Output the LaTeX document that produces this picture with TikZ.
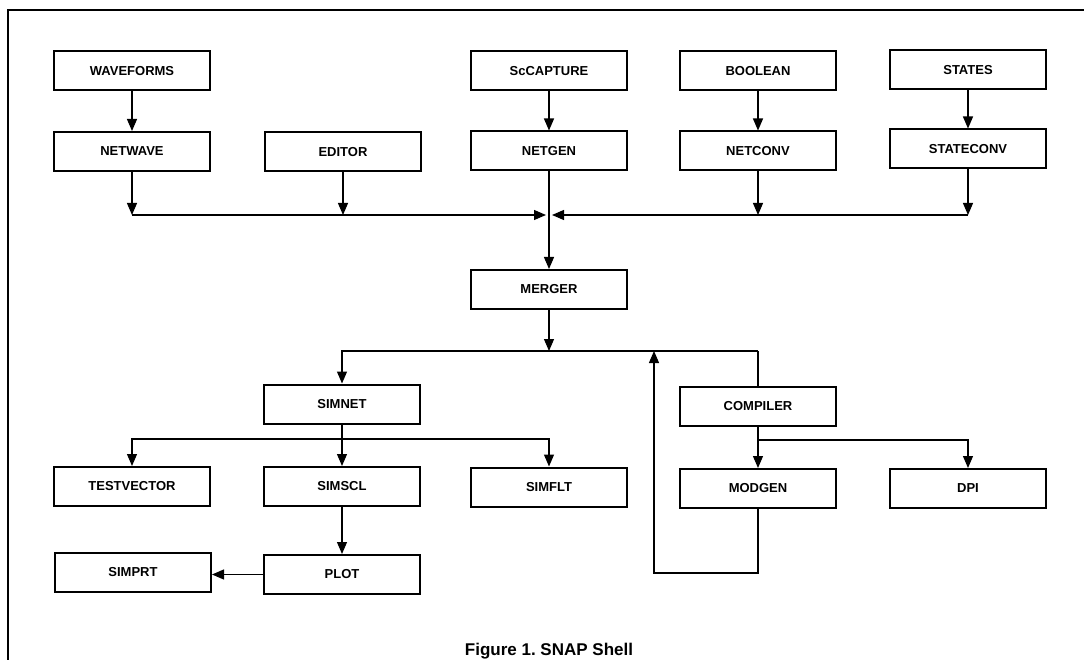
\documentclass[tikz,border=0pt]{standalone}
\usepackage{fontspec}
\setmainfont{Liberation Sans}
\usetikzlibrary{arrows.meta}
\begin{document}
\frenchspacing
\begin{tikzpicture}[x=1pt,y=-1pt,
  box/.style={draw, line width=2pt, minimum width=156pt, minimum height=39pt,
    inner sep=0pt, font=\fontsize{13}{15}\selectfont\bfseries},
  link/.style={line width=1.2pt},
  arr/.style={link, -{Triangle[length=12pt,width=10pt]}}]
\useasboundingbox (0,0) rectangle (1084,660);
% frame
\draw[line width=1.3pt] (8,660) -- (8,10) -- (1084,10);

% boxes
\node[box] (wave) at (132,71) {WAVEFORMS};
\node[box] (netwave) at (132,151.5) {NETWAVE};
\node[box] (editor) at (343,152) {EDITOR};
\node[box] (sccap) at (549,71) {ScCAPTURE};
\node[box] (netgen) at (549,151) {NETGEN};
\node[box] (bool) at (758,71) {BOOLEAN};
\node[box] (netconv) at (758,151) {NETCONV};
\node[box] (states) at (968,70) {STATES};
\node[box] (stateconv) at (968,149) {STATECONV};
\node[box] (merger) at (549,289.5) {MERGER};
\node[box] (simnet) at (342,404) {SIMNET};
\node[box] (compiler) at (758,406) {COMPILER};
\node[box] (testvec) at (132,486.5) {TESTVECTOR};
\node[box] (simscl) at (342,486.5) {SIMSCL};
\node[box] (simflt) at (549,487) {SIMFLT};
\node[box] (modgen) at (758,488.5) {MODGEN};
\node[box] (dpi) at (968,488.5) {DPI};
\node[box] (simprt) at (133,572) {SIMPRT};
\node[box] (plot) at (342,574.5) {PLOT};

% junction coordinates
\coordinate (mL) at (132,215);
\coordinate (mE) at (343,215);
\coordinate (mC) at (549,215);
\coordinate (mN) at (758,215);
\coordinate (mR) at (968,215);
\coordinate (bus) at (549,351);
\coordinate (busL) at (342,351);
\coordinate (busR) at (758,351);
\coordinate (sL) at (132,439);
\coordinate (sC) at (342,439);
\coordinate (sR) at (549,439);
\coordinate (cB) at (758,440);
\coordinate (cR) at (968,440);
\coordinate (lpA) at (758,573);
\coordinate (lpB) at (654,573);
\coordinate (lpC) at (654,351);

% upper chain
\draw[arr] (wave) -- (netwave);
\draw[arr] (sccap) -- (netgen);
\draw[arr] (bool) -- (netconv);
\draw[arr] (states) -- (stateconv);
\draw[arr] (netwave) -- (mL);
\draw[arr] (editor) -- (mE);
\draw[arr] (netconv) -- (mN);
\draw[arr] (stateconv) -- (mR);
\draw[arr] (mL) -- ([xshift=-3pt]mC);
\draw[arr] (mR) -- ([xshift=3pt]mC);
\draw[arr] (netgen) -- (merger);

% merger distribution
\draw[arr] (merger) -- (bus);
\draw[arr] (busR) -- (busL) -- (simnet);
\draw[link] (busR) -- (compiler);

% simnet outputs
\draw[arr] (simnet) -- (simscl);
\draw[arr] (sC) -- (sL) -- (testvec);
\draw[arr] (sC) -- (sR) -- (simflt);
\draw[arr] (simscl) -- (plot);
\draw[arr] (plot.west) -- (plot.west -| simprt.east);

% compiler outputs
\draw[arr] (compiler) -- (modgen);
\draw[arr] (cB) -- (cR) -- (dpi);
\draw[arr] (modgen) -- (lpA) -- (lpB) -- (lpC);

% caption
\node[anchor=base, font=\fontsize{17}{20}\selectfont\bfseries] (cap) at (549,655) {Figure 1. SNAP Shell};
\end{tikzpicture}
\end{document}
